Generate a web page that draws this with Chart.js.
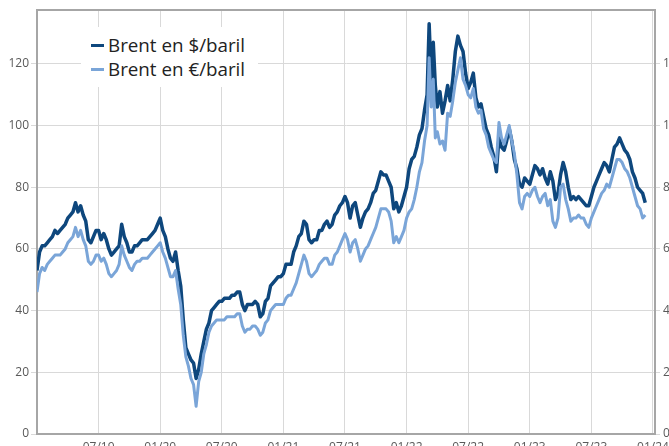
<!DOCTYPE html>
<html>
<head>
<meta charset="utf-8">
<script src="https://cdn.jsdelivr.net/npm/chart.js@4.4.0/dist/chart.umd.min.js"></script>
<style>
  html, body { margin: 0; padding: 0; overflow: hidden; background: #fff; }
  #wrap { position: relative; width: 700px; height: 460px; }
  #legend {
    position: absolute; left: 81px; top: 27px; width: 177px; height: 60px;
    background: #fff; font-family: 'Open Sans', sans-serif; font-size: 18.8px; color: #222;
    padding-top: 6px; box-sizing: border-box;
  }
  #legend .item { position: relative; height: 24.3px; line-height: 24.3px; padding-left: 27px; white-space: nowrap; }
  #legend .swatch { position: absolute; left: 10px; top: 11px; width: 13px; height: 3px; }
</style>
</head>
<body>
<div id="wrap">
  <canvas id="chart" width="700" height="460"></canvas>
  <div id="legend"></div>
</div>
<script>
// months on the x axis (one unit each), from 01/19 to 01/24
const months = [
  '01/19','02/19','03/19','04/19','05/19','06/19','07/19','08/19','09/19','10/19','11/19','12/19',
  '01/20','02/20','03/20','04/20','05/20','06/20','07/20','08/20','09/20','10/20','11/20','12/20',
  '01/21','02/21','03/21','04/21','05/21','06/21','07/21','08/21','09/21','10/21','11/21','12/21',
  '01/22','02/22','03/22','04/22','05/22','06/22','07/22','08/22','09/22','10/22','11/22','12/22',
  '01/23','02/23','03/23','04/23','05/23','06/23','07/23','08/23','09/23','10/23','11/23','12/23',
  '01/24'
];
const tickLabels = ['07/19','01/20','07/20','01/21','07/21','01/22','07/22','01/23','07/23','01/24'];

// weekly readings, one small list per month
const brentUsd = [
  [53,59,61,61],[62,63,64,66],[65,66,67,68],[70,71,72,75],[72,74,71,69],[63,62,64,66],
  [66,63,65,63],[60,58,59,60],[61,68,64,62],[59,59,61,61],[62,63,63,63],[64,65,66,68],
  [70,66,64,60],[57,56,59,53],[48,37,28,26],[24,23,18,21],[26,30,34,36],[40,41,42,43],
  [43,44,44,44],[45,45,46,46],[42,40,42,42],[42,43,42,38],[39,43,44,48],[49,50,51,51],
  [52,55,55,55],[59,61,64,65],[69,68,63,62],[63,63,66,66],[68,69,67,68],[71,72,74,75],
  [77,75,70,74],[75,71,67,70],[72,73,75,78],[79,82,85,84],[84,82,80,73],[75,72,74,77],
  [80,86,89,90],[93,97,99,105],[110,133,115,127,113],[106,111,104,108],[113,108,115,124],[129,126,124,117],
  [112,114,117,109],[106,107,103,99],[97,93,90,85],[96,93,92,95],[99,95,89,86],[81,80,83,82],
  [81,84,87,86],[84,86,83,81],[85,82,76,78],[84,88,85,80],[76,77,76,77],[76,75,74,74],
  [77,80,82,84],[86,88,87,85],[89,93,94,96],[94,92,91,89],[85,83,80,79],[78,75]
];
const brentEur = [
  [46,52,54,53],[55,56,57,58],[58,58,59,60],[62,63,64,67],[64,66,63,61],[56,55,56,58],
  [58,56,57,55],[52,51,52,53],[55,61,58,56],[54,53,55,56],[56,57,57,57],[58,59,60,61],
  [62,59,57,54],[51,51,53,47],[42,32,25,22],[18,16,9,17],[20,26,29,33],[35,36,37,37],
  [37,37,38,38],[38,38,39,39],[35,33,34,34],[35,35,34,32],[33,36,37,40],[41,42,42,42],
  [42,44,45,45],[47,49,52,55],[58,56,52,51],[52,53,55,56],[57,57,55,55],[58,59,61,63],
  [65,63,59,62],[63,60,56,58],[60,61,63,65],[67,70,73,73],[73,72,69,62],[64,62,64,66],
  [70,72,73,76],[80,85,88,95],[100,122,106,115,96],[98,94,95,92],[104,103,108,114],[118,122,115,113],
  [110,109,112,106],[104,105,99,97],[93,91,89,88],[101,96,94,97],[100,95,91,84],[75,73,77,78],
  [77,79,80,77],[75,77,78,74],[76,69,67,70],[80,81,76,73],[69,70,70,71],[70,70,68,67],
  [70,72,74,76],[78,79,81,80],[83,86,89,89],[88,86,85,83],[80,77,74,73],[70,71]
];

function toPoints(perMonth) {
  const pts = [];
  perMonth.forEach((vals, i) => {
    const step = 1 / Math.max(4, vals.length);
    vals.forEach((v, k) => pts.push({ x: i + k * step, y: v }));
  });
  return pts;
}

const GRID = '#d9d9d9';
const AXIS = '#a6a6a6';
const TICK_FONT = { family: "'Open Sans', sans-serif", size: 12 };
const TICK_COLOR = '#595959';

const htmlLegend = {
  id: 'htmlLegend',
  afterUpdate(chart) {
    const box = document.getElementById('legend');
    box.innerHTML = '';
    const items = chart.options.plugins.legend.labels.generateLabels(chart)
      .sort((a, b) => a.datasetIndex - b.datasetIndex);
    items.forEach(it => {
      const row = document.createElement('div');
      row.className = 'item';
      const sw = document.createElement('span');
      sw.className = 'swatch';
      sw.style.background = it.strokeStyle;
      row.appendChild(sw);
      row.appendChild(document.createTextNode(it.text));
      box.appendChild(row);
    });
  }
};

const yCommon = {
  type: 'linear', min: 0, max: 137.4,
  ticks: { stepSize: 20, includeBounds: false, font: TICK_FONT, color: TICK_COLOR },
  border: { color: AXIS, width: 2 }
};

new Chart(document.getElementById('chart'), {
  type: 'line',
  data: {
    datasets: [
      { label: 'Brent en $/baril', data: toPoints(brentUsd), borderColor: '#0e477d',
        borderWidth: 3.5, borderJoinStyle: 'round', pointRadius: 0, order: 1 },
      { label: 'Brent en €/baril', data: toPoints(brentEur), borderColor: '#7aa5d8',
        borderWidth: 3, borderJoinStyle: 'round', pointRadius: 0, order: 0 }
    ]
  },
  options: {
    responsive: false,
    animation: false,
    devicePixelRatio: 1,
    layout: { padding: 0 },
    plugins: { legend: { display: false }, tooltip: { enabled: false } },
    scales: {
      x: {
        type: 'linear', position: 'bottom', min: 0, max: 60.2,
        afterBuildTicks: s => { s.ticks = tickLabels.map(l => ({ value: months.indexOf(l) })); },
        afterFit: s => { s.height = 26; },
        ticks: {
          font: TICK_FONT, color: TICK_COLOR, padding: 6, maxRotation: 0, autoSkip: false,
          callback: v => months[v]
        },
        grid: { color: GRID, drawTicks: false },
        border: { color: AXIS, width: 2 }
      },
      x2: {
        type: 'linear', position: 'top', min: 0, max: 60.2,
        afterFit: s => { s.height = 7; },
        ticks: { display: false },
        grid: { drawOnChartArea: false, drawTicks: false },
        border: { color: AXIS, width: 2 }
      },
      y: Object.assign({}, yCommon, {
        position: 'left',
        afterFit: s => { s.width = 37; },
        ticks: Object.assign({}, yCommon.ticks, { padding: 2 }),
        grid: { color: GRID, tickLength: 6 }
      }),
      y2: Object.assign({}, yCommon, {
        position: 'right',
        afterFit: s => { s.width = 45; },
        ticks: Object.assign({}, yCommon.ticks, { padding: 3 }),
        grid: { color: GRID, tickLength: 5, drawOnChartArea: false }
      })
    }
  },
  plugins: [htmlLegend]
});
</script>
</body>
</html>
